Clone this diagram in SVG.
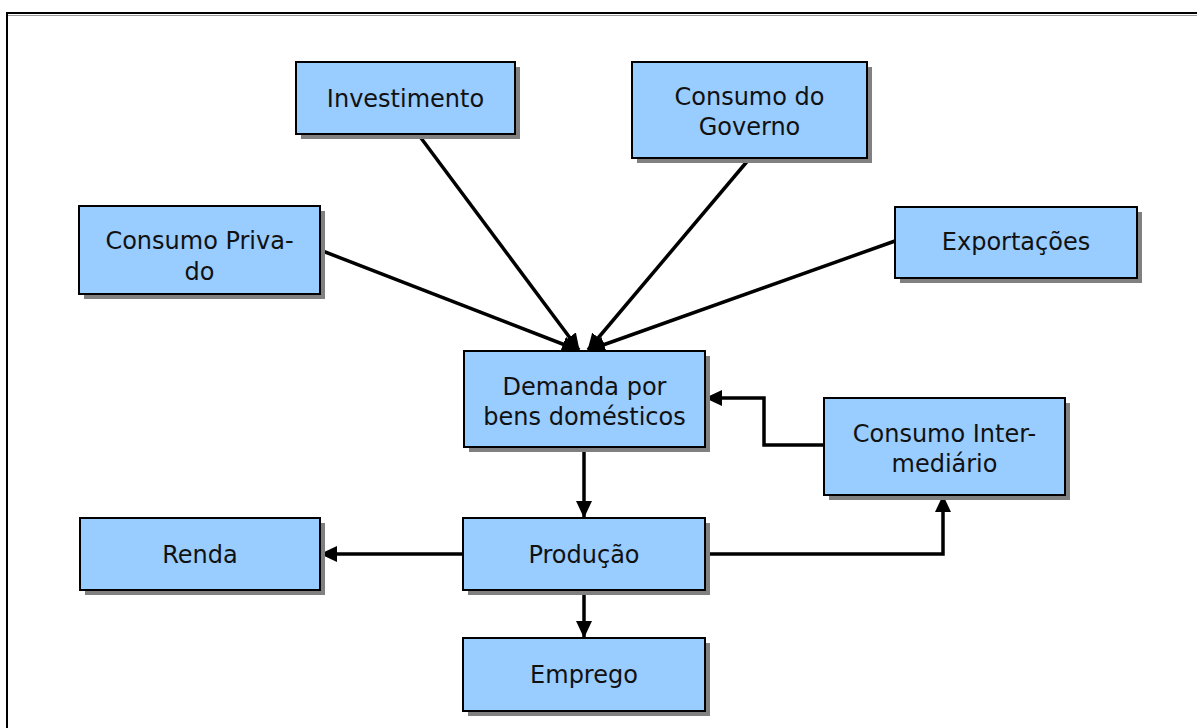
<svg xmlns="http://www.w3.org/2000/svg" width="1197" height="728" viewBox="0 0 1197 728">
  <style>
    .box { fill: #99ccff; stroke: #000; stroke-width: 2; }
    .shadow { fill: #808080; }
    .lbl { font-family: "DejaVu Sans", "Liberation Sans", sans-serif; font-size: 24px; fill: #111; text-anchor: middle; }
    .edge { fill: none; stroke: #000; stroke-width: 3.5; stroke-linejoin: miter; }
  </style>
  <defs>
    <marker id="arrow" markerUnits="userSpaceOnUse" markerWidth="17" markerHeight="16" refX="16" refY="8" orient="auto">
      <path d="M0,0 L17,8 L0,16 Z" fill="#000"/>
    </marker>
  </defs>

  <rect width="1197" height="728" fill="#fff"/>
  <!-- outer frame -->
  <rect x="7" y="13" width="1200" height="730" fill="none" stroke="#000" stroke-width="2"/>
  <line x1="8" y1="15.5" x2="1197" y2="15.5" stroke="#999" stroke-width="1"/>

  <!-- connectors -->
  <g id="connectors">
    <line class="edge" x1="418" y1="134" x2="579" y2="350" marker-end="url(#arrow)"/>
    <line class="edge" x1="320" y1="250" x2="578" y2="350" marker-end="url(#arrow)"/>
    <line class="edge" x1="750" y1="158" x2="588" y2="350" marker-end="url(#arrow)"/>
    <line class="edge" x1="895" y1="241" x2="589" y2="350" marker-end="url(#arrow)"/>
    <line class="edge" x1="584" y1="447" x2="584" y2="517" marker-end="url(#arrow)"/>
    <line class="edge" x1="584" y1="590" x2="584" y2="637" marker-end="url(#arrow)"/>
    <line class="edge" x1="463" y1="554" x2="321" y2="554" marker-end="url(#arrow)"/>
    <polyline class="edge" points="705,554 943,554 943,496" marker-end="url(#arrow)"/>
    <polyline class="edge" points="824,445 764,445 764,398 706,398" marker-end="url(#arrow)"/>
  </g>

  <g id="investimento">
    <rect class="shadow" x="301" y="67" width="219" height="72"/>
    <rect class="box" x="296" y="62" width="219" height="72"/>
    <text class="lbl" x="405.5" y="107">Investimento</text>
  </g>

  <g id="consumo-governo">
    <rect class="shadow" x="637" y="67" width="235" height="96"/>
    <rect class="box" x="632" y="62" width="235" height="96"/>
    <text class="lbl" x="749.5" y="105">Consumo do</text>
    <text class="lbl" x="749.5" y="135">Governo</text>
  </g>

  <g id="consumo-privado">
    <rect class="shadow" x="84" y="211" width="241" height="88"/>
    <rect class="box" x="79" y="206" width="241" height="88"/>
    <text class="lbl" x="199.5" y="249">Consumo Priva-</text>
    <text class="lbl" x="199.5" y="280">do</text>
  </g>

  <g id="exportacoes">
    <rect class="shadow" x="900" y="212" width="242" height="71"/>
    <rect class="box" x="895" y="207" width="242" height="71"/>
    <text class="lbl" x="1016" y="250">Exportações</text>
  </g>

  <g id="demanda">
    <rect class="shadow" x="469" y="356" width="241" height="96"/>
    <rect class="box" x="464" y="351" width="241" height="96"/>
    <text class="lbl" x="584.5" y="395">Demanda por</text>
    <text class="lbl" x="584.5" y="425">bens domésticos</text>
  </g>

  <g id="consumo-intermediario">
    <rect class="shadow" x="829" y="403" width="241" height="97"/>
    <rect class="box" x="824" y="398" width="241" height="97"/>
    <text class="lbl" x="944.5" y="442">Consumo Inter-</text>
    <text class="lbl" x="944.5" y="472">mediário</text>
  </g>

  <g id="renda">
    <rect class="shadow" x="85" y="523" width="240" height="72"/>
    <rect class="box" x="80" y="518" width="240" height="72"/>
    <text class="lbl" x="200" y="563">Renda</text>
  </g>

  <g id="producao">
    <rect class="shadow" x="468" y="523" width="242" height="72"/>
    <rect class="box" x="463" y="518" width="242" height="72"/>
    <text class="lbl" x="584" y="563">Produção</text>
  </g>

  <g id="emprego">
    <rect class="shadow" x="468" y="643" width="242" height="73"/>
    <rect class="box" x="463" y="638" width="242" height="73"/>
    <text class="lbl" x="584" y="683">Emprego</text>
  </g>
</svg>
